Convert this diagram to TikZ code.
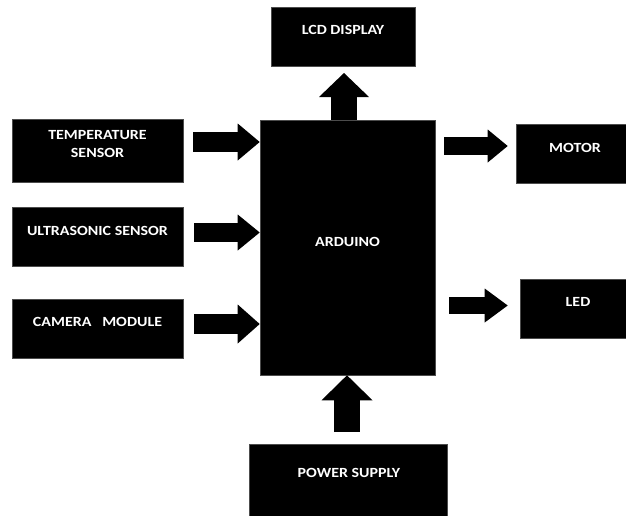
\documentclass[tikz,border=0pt]{standalone}
\usepackage{graphicx}
\usepackage{fontspec}
\setmainfont{Carlito}
\usetikzlibrary{arrows.meta}
\newcommand\stx[1]{\scalebox{1.14}[1]{#1}}
\begin{document}
\begin{tikzpicture}[x=1pt,y=-1pt,
  blk/.style={fill=black,draw=black!70,line width=0.6pt,inner sep=0pt},
  lbl/.style={text=white,font=\fontsize{14}{18}\selectfont\bfseries,align=center,inner sep=0pt},
  ]
\useasboundingbox (0,0) rectangle (626,515);
% boxes
\node[blk,minimum width=171pt,minimum height=63pt] (temp) at (97.5,150.5) {};
\node[blk,minimum width=171pt,minimum height=59pt] (ultra) at (97.5,236.5) {};
\node[blk,minimum width=171pt,minimum height=59pt] (cam) at (97.5,328.5) {};
\node[blk,minimum width=175pt,minimum height=255pt] (ard) at (347.5,247.5) {};
\node[blk,minimum width=144pt,minimum height=59pt] (lcd) at (343,36.5) {};
\node[blk,minimum width=112pt,minimum height=59pt] (motor) at (572,153.5) {};
\node[blk,minimum width=108pt,minimum height=59pt] (led) at (574,308.5) {};
\node[blk,minimum width=198pt,minimum height=73pt] (power) at (348,480.5) {};
% labels
\node[lbl] (ttemp) at ([yshift=6.5pt]temp.center) {\stx{TEMPERATURE}\\\stx{SENSOR}};
\node[lbl] (tultra) at ([yshift=5.5pt]ultra.center) {\stx{ULTRASONIC SENSOR}};
\node[lbl] (tcam) at ([yshift=6.5pt]cam.center) {\stx{CAMERA\ \ \ MODULE}};
\node[lbl] (tard) at ([yshift=6pt]ard.center) {\stx{ARDUINO}};
\node[lbl] (tlcd) at ([yshift=6.5pt]lcd.center) {\stx{LCD DISPLAY}};
\node[lbl] (tmotor) at ([xshift=3pt,yshift=5.5pt]motor.center) {\stx{MOTOR}};
\node[lbl] (tled) at ([xshift=4pt,yshift=6.5pt]led.center) {\stx{LED}};
\node[lbl] (tpower) at ([xshift=1pt,yshift=7.5pt]power.center) {\stx{POWER SUPPLY}};
% block arrows
\coordinate (a1) at (193,142);
\draw[line width=20pt,-{Triangle[length=22pt,width=37pt,line width=0pt]}] (a1) -- (a1 -| ard.west) ;
\coordinate (a2) at (194,232.5);
\draw[line width=19pt,-{Triangle[length=22pt,width=36pt,line width=0pt]}] (a2) -- (a2 -| ard.west);
\coordinate (a3) at (194,324);
\draw[line width=20pt,-{Triangle[length=22pt,width=39pt,line width=0pt]}] (a3) -- (a3 -| ard.west);
\coordinate (a4) at (444,146);
\draw[line width=18pt,-{Triangle[length=20pt,width=33pt,line width=0pt]}] (a4) -- ([xshift=-8pt]a4 -| motor.west);
\coordinate (a5) at (449,305.5);
\draw[line width=17pt,-{Triangle[length=23pt,width=34pt,line width=0pt]}] (a5) -- ([xshift=-12pt]a5 -| led.west);
\coordinate (a6) at (344,73);
\draw[line width=26pt,-{Triangle[length=24pt,width=50pt,line width=0pt]}] (a6 |- ard.north) -- (a6);
\coordinate (a7) at (347,432);
\draw[line width=26pt,-{Triangle[length=25pt,width=51pt,line width=0pt]}] (a7) -- (a7 |- ard.south);
\end{tikzpicture}
\end{document}
